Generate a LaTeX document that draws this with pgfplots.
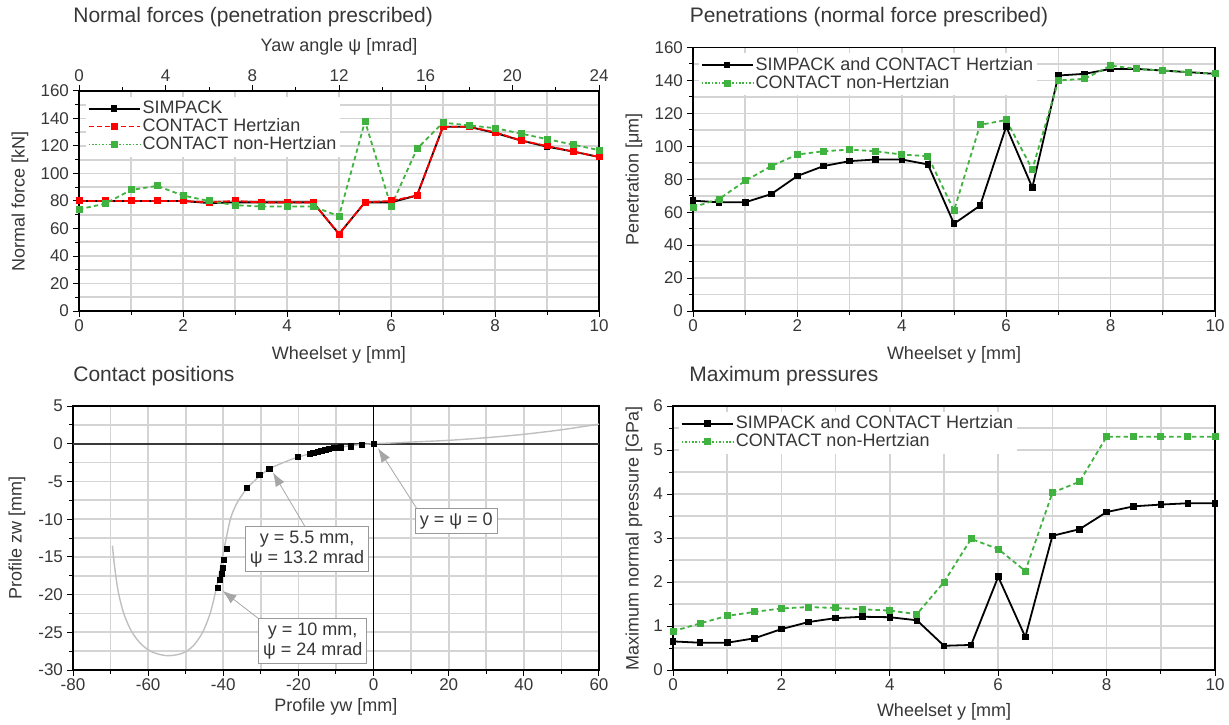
\documentclass[border=0pt]{standalone}
\usepackage{fontspec}
\setmainfont{Liberation Sans}
\usepackage{pgfplots}
\usepackage{pgfplotstable}
\pgfplotsset{compat=1.18}
\usetikzlibrary{arrows.meta}

\definecolor{cgreen}{RGB}{64,178,64}
\definecolor{txt}{RGB}{55,55,55}
\definecolor{gridc}{RGB}{212,212,212}

% wheelset y [mm] sweep, 0..10 in steps of 0.5
\pgfplotstableread{
y    simp   hertz  nonh
0    80     80     74
0.5  80     80     78
1    80     80     88
1.5  80     80     91
2    80     80     84
2.5  78.5   79     80
3    79     80     77
3.5  79     79     76
4    79     79     76
4.5  79     79     76
5    56     56     69
5.5  79     79     138
6    79     80     76
6.5  84     84     118
7    134    134    137
7.5  134    134    135
8    129.5  130    133
8.5  124    124    129
9    119.5  120    125
9.5  116    116    121
10   112    112    117
}\forces

\pgfplotstableread{
y    hz    nonh
0    67    63
0.5  66    68
1    66    79
1.5  71    88
2    82    95
2.5  88    97
3    91    98
3.5  92    97
4    92    95
4.5  89    94
5    53    61
5.5  64    113
6    112   116
6.5  75    86
7    143   140
7.5  144   141
8    147   149
8.5  147   147
9    146   146
9.5  145   145
10   144   144
}\pens

\pgfplotstableread{
y    hz    nonh
0    0.65  0.88
0.5  0.62  1.06
1    0.62  1.23
1.5  0.72  1.32
2    0.93  1.40
2.5  1.09  1.43
3    1.18  1.41
3.5  1.21  1.38
4    1.20  1.35
4.5  1.13  1.27
5    0.55  2.00
5.5  0.57  2.98
6    2.12  2.75
6.5  0.75  2.25
7    3.05  4.03
7.5  3.20  4.28
8    3.59  5.30
8.5  3.72  5.30
9    3.76  5.30
9.5  3.79  5.30
10   3.79  5.30
}\press

\pgfplotsset{
  panel/.style={
    scale only axis, clip=false,
    axis line style={black, line width=0.6pt},
    tick style={black, line width=0.5pt},
    tick align=outside, xtick pos=bottom, ytick pos=left,
    major tick length=3pt, minor tick length=2pt,
    grid=both,
    major grid style={gridc, line width=0.8pt},
    minor grid style={gridc, line width=0.8pt},
    tick label style={font=\fontsize{8.5}{9}\selectfont, text=txt},
    xticklabel style={yshift=2pt},
    yticklabel style={xshift=1.5pt},
    label style={font=\fontsize{9}{10}\selectfont, text=txt},
    /pgf/number format/assume math mode=true,
    legend style={draw=none, fill=white, font=\fontsize{9}{9}\selectfont, text=txt,
      inner sep=1pt, row sep=-1pt, nodes={inner sep=1pt}},
    legend cell align=left,
    legend image code/.code={\draw[mark repeat=2,mark phase=2,#1] plot coordinates {(0cm,0cm)(0.45cm,0cm)(0.9cm,0cm)};},
  },
  sblack/.style={black, line width=0.9pt, mark=square*, mark size=1.2pt},
  sred/.style={red, line width=0.9pt, dash pattern=on 3.5pt off 1pt, mark=square*, mark size=1.3pt, mark options={solid},
    legend image code/.code={\draw[mark repeat=2,mark phase=2,##1,dash pattern=on 2.5pt off 1.5pt] plot coordinates {(0cm,0cm)(0.45cm,0cm)(0.9cm,0cm)};}},
  sgreen/.style={cgreen, line width=0.9pt, dash pattern=on 2.2pt off 1.6pt, mark=square*, mark size=1.3pt, mark options={solid},
    legend image code/.code={\draw[mark repeat=2,mark phase=2,##1,dash pattern=on 0.8pt off 0.9pt] plot coordinates {(0cm,0cm)(0.45cm,0cm)(0.9cm,0cm)};}},
}
\tikzset{ptitle/.style={anchor=base west, inner sep=0pt, font=\fontsize{10.5}{12}\selectfont, text=txt}}

\begin{document}
\begin{tikzpicture}
\useasboundingbox (0,0) rectangle (614.5pt,362pt);

\node[ptitle] at (36.5pt,350.5pt) {Normal forces (penetration prescribed)};
\node[ptitle] at (344.7pt,350.5pt) {Penetrations (normal force prescribed)};
\node[ptitle] at (36.5pt,171.2pt) {Contact positions};
\node[ptitle] at (344.5pt,171.5pt) {Maximum pressures};

% top left: normal forces
\begin{axis}[panel, at={(39.5pt,206.5pt)}, anchor=south west, width=260pt, height=110pt,
  xmin=0, xmax=10, ymin=0, ymax=160,
  xtick={0,2,...,10}, minor xtick={1,3,...,9},
  ytick={0,20,...,160}, minor ytick={10,30,...,150},
  xlabel={Wheelset y [mm]}, ylabel={Normal force [kN]},
  xlabel style={at={(axis description cs:0.5,-0.2)}, anchor=center},
  ylabel style={at={(axis description cs:-0.1135,0.5)}, anchor=center},
  legend style={at={(0.012,0.975)}, anchor=north west}]
\addplot[sblack] table[x=y, y=simp] {\forces};
\addlegendentry{SIMPACK}
\addplot[sred] table[x=y, y=hertz] {\forces};
\addlegendentry{CONTACT Hertzian}
\addplot[sgreen] table[x=y, y=nonh] {\forces};
\addlegendentry{CONTACT non-Hertzian}
\end{axis}
\begin{axis}[at={(39.5pt,206.5pt)}, anchor=south west, width=260pt, height=110pt,
  scale only axis, xmin=0, xmax=24, ymin=0, ymax=1,
  axis x line*=top, axis y line=none,
  axis line style={black, line width=0.6pt},
  tick style={black, line width=0.5pt}, tick align=outside,
  major tick length=3pt, minor tick length=2pt,
  xtick={0,4,...,24}, minor xtick={2,6,...,22},
  tick label style={font=\fontsize{8.5}{9}\selectfont, text=txt},
  xticklabel style={yshift=-2pt},
  /pgf/number format/assume math mode=true,
  xlabel={Yaw angle ψ [mrad]},
  xlabel style={font=\fontsize{9}{10}\selectfont, text=txt, at={(axis description cs:0.5,1.2)}, anchor=center}]
\end{axis}

% top right: penetrations
\begin{axis}[panel, at={(346.5pt,206.5pt)}, anchor=south west, width=261pt, height=131.75pt,
  xmin=0, xmax=10, ymin=0, ymax=160,
  xtick={0,2,...,10}, minor xtick={1,3,...,9},
  ytick={0,20,...,160}, minor ytick={10,30,...,150},
  xlabel={Wheelset y [mm]}, ylabel={Penetration [μm]},
  xlabel style={at={(axis description cs:0.5,-0.167)}, anchor=center},
  ylabel style={at={(axis description cs:-0.113,0.5)}, anchor=center},
  legend style={at={(0.01,0.98)}, anchor=north west}]
\addplot[sblack] table[x=y, y=hz] {\pens};
\addlegendentry{SIMPACK and CONTACT Hertzian}
\addplot[sgreen] table[x=y, y=nonh] {\pens};
\addlegendentry{CONTACT non-Hertzian}
\end{axis}

% bottom left: contact positions
\begin{axis}[panel, at={(36.5pt,27pt)}, anchor=south west, width=263pt, height=132pt,
  xmin=-80, xmax=60, ymin=-30, ymax=5,
  xtick={-80,-60,...,60}, minor xtick={-70,-50,...,50},
  ytick={-30,-25,...,5}, minor ytick={-27.5,-22.5,...,2.5},
  xlabel={Profile yw [mm]}, ylabel={Profile zw [mm]},
  xlabel style={at={(axis description cs:0.5,-0.14)}, anchor=center},
  ylabel style={at={(axis description cs:-0.1065,0.5)}, anchor=center}]
\addplot[gray!45!black, line width=0.9pt] coordinates {(-80,0) (60,0)};
\addplot[black, line width=0.5pt] coordinates {(0,-30) (0,5)};
\addplot[gray!50, line width=0.7pt, smooth] coordinates {
  (-69.5,-13.5) (-69,-16) (-68,-19.5) (-66.5,-22.5) (-64.5,-24.8) (-62,-26.5)
  (-59,-27.6) (-55,-28.1) (-51,-27.8) (-48,-26.8) (-45.5,-25) (-43.5,-22.5)
  (-42,-19.5) (-41,-17) (-40,-14.5) (-39,-12) (-38,-9.8) (-36.5,-8)
  (-35,-6.8) (-33.5,-5.8) (-31,-4.6) (-28,-3.4) (-24,-2.5) (-20,-1.75)
  (-15,-1.1) (-10,-0.55) (-5,-0.2) (0,0) (5,0.1) (10,0.22) (20,0.45)
  (30,0.8) (40,1.25) (50,1.85) (60,2.6)};
\addplot[only marks, mark=square*, mark size=1.3pt, black] coordinates {
  (0,0) (-3,-0.2) (-6,-0.35) (-8.6,-0.5) (-10.4,-0.57) (-11.8,-0.7) (-12.8,-0.8)
  (-13.9,-0.93) (-14.9,-1.06) (-16,-1.2) (-17,-1.33) (-20.1,-1.77) (-27.7,-3.3)
  (-30.4,-4.1) (-33.8,-5.9) (-39,-13.9) (-39.8,-15.4) (-40.1,-16.5) (-40.4,-17.3)
  (-40.8,-18.1) (-41.4,-19.1)};
\draw[gray!70, line width=0.4pt, -{Latex[length=7pt,width=5pt]}] (11.5,-8.6) -- (1.2,-0.6);
\draw[gray!70, line width=0.4pt, -{Latex[length=7pt,width=5pt]}] (-18,-11.2) -- (-26.8,-3.8);
\draw[gray!70, line width=0.4pt, -{Latex[length=7pt,width=5pt]}] (-30.3,-23.3) -- (-40.2,-19.5);
\node[draw=gray!80, fill=white, line width=0.4pt, font=\fontsize{9}{10}\selectfont, text=txt, inner sep=2.2pt] at (22,-10.2) {y = ψ = 0};
\node[draw=gray!80, fill=white, line width=0.4pt, font=\fontsize{9}{10}\selectfont, text=txt, inner sep=2.2pt, align=center] at (-17.7,-13.95) {y = 5.5 mm,\\ψ = 13.2 mrad};
\node[draw=gray!80, fill=white, line width=0.4pt, font=\fontsize{9}{10}\selectfont, text=txt, inner sep=2.2pt, align=center] at (-16.2,-26.2) {y = 10 mm,\\ψ = 24 mrad};
\end{axis}

% bottom right: maximum pressures
\begin{axis}[panel, at={(336.5pt,27pt)}, anchor=south west, width=271pt, height=132pt,
  xmin=0, xmax=10, ymin=0, ymax=6,
  xtick={0,2,...,10}, minor xtick={1,3,...,9},
  ytick={0,1,...,6}, minor ytick={0.5,1.5,...,5.5},
  xlabel={Wheelset y [mm]}, ylabel={Maximum normal pressure [GPa]},
  xlabel style={at={(axis description cs:0.5,-0.159)}, anchor=center},
  ylabel style={at={(axis description cs:-0.072,0.5)}, anchor=center},
  legend style={at={(0.01,0.98)}, anchor=north west}]
\addplot[sblack] table[x=y, y=hz] {\press};
\addlegendentry{SIMPACK and CONTACT Hertzian}
\addplot[sgreen] table[x=y, y=nonh] {\press};
\addlegendentry{CONTACT non-Hertzian}
\end{axis}
\end{tikzpicture}
\end{document}
